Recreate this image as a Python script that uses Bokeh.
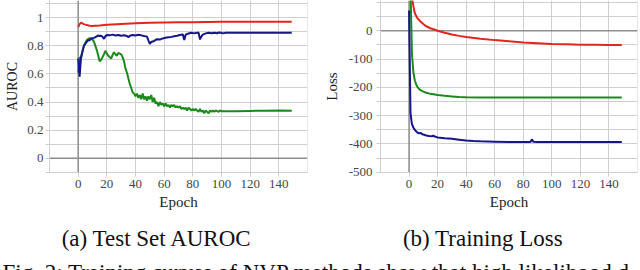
from bokeh.plotting import figure
from bokeh.layouts import row, column
from bokeh.models import FixedTicker, Span
from bokeh.core.properties import value
from bokeh.embed import file_html
from bokeh.resources import INLINE

# ---------------- data: (a) Test Set AUROC ----------------
auc_red_x = [0, 1, 2, 3, 4, 6, 8, 10, 12, 15, 20, 30, 40, 50, 60, 70, 80, 90, 100, 120, 149]
auc_red_y = [0.935, 0.955, 0.965, 0.960, 0.955, 0.948, 0.944, 0.942, 0.944, 0.946, 0.950,
             0.956, 0.961, 0.964, 0.967, 0.968, 0.969, 0.970, 0.971, 0.971, 0.972]

auc_blue_x = [0, 1, 2, 3, 4, 5, 6, 7, 8, 9, 10, 11, 12, 13, 14, 15, 16, 17, 18, 19, 20,
              22, 24, 26, 28, 30, 32, 34, 35, 36, 38, 40, 42, 44, 46, 48, 49, 50, 51, 53,
              55, 57, 59, 61, 63, 65, 67, 69, 71, 73, 74, 75, 77, 79, 81, 83, 84, 85, 86,
              87, 89, 91, 93, 95, 97, 98, 100, 101, 103, 110, 120, 130, 140, 149]
auc_blue_y = [0.71, 0.58, 0.72, 0.76, 0.80, 0.815, 0.83, 0.84, 0.84, 0.85, 0.855, 0.857,
              0.862, 0.868, 0.874, 0.870, 0.872, 0.865, 0.850, 0.868, 0.878,
              0.875, 0.880, 0.874, 0.878, 0.872, 0.876, 0.870, 0.862, 0.872, 0.878, 0.874,
              0.879, 0.875, 0.870, 0.866, 0.840, 0.815, 0.828, 0.835, 0.848, 0.845, 0.853,
              0.858, 0.862, 0.864, 0.868, 0.872, 0.877, 0.882, 0.842, 0.880, 0.888, 0.893,
              0.889, 0.894, 0.893, 0.846, 0.868, 0.880, 0.889, 0.894, 0.890, 0.894, 0.890,
              0.895, 0.893, 0.889, 0.894, 0.893, 0.893, 0.893, 0.893, 0.893]

auc_green_x = list(range(0, 101)) + [110, 120, 130, 140, 149]
auc_green_y = [0.61, 0.72, 0.71, 0.76, 0.80, 0.82, 0.84, 0.85, 0.855, 0.855,
               0.845, 0.83, 0.80, 0.77, 0.73, 0.69, 0.70, 0.72, 0.74, 0.765,
               0.745, 0.73, 0.72, 0.71, 0.735, 0.755, 0.74, 0.73, 0.75, 0.745,
               0.74, 0.72, 0.69, 0.64, 0.61, 0.57, 0.53, 0.50, 0.47, 0.46,
               0.44, 0.46, 0.43, 0.45, 0.42, 0.46, 0.42, 0.44, 0.41, 0.44,
               0.42, 0.45, 0.40, 0.43, 0.39, 0.40, 0.37, 0.40, 0.38, 0.39,
               0.37, 0.39, 0.37, 0.38, 0.36, 0.38, 0.37, 0.38, 0.36, 0.37,
               0.36, 0.37, 0.35, 0.36, 0.35, 0.36, 0.34, 0.36, 0.35, 0.34,
               0.35, 0.34, 0.35, 0.34, 0.33, 0.35, 0.33, 0.34, 0.32, 0.34,
               0.33, 0.32, 0.34, 0.33, 0.34, 0.33, 0.34, 0.335, 0.33, 0.34,
               0.335, 0.335, 0.337, 0.338, 0.340, 0.338]

# ---------------- data: (b) Training Loss ----------------
loss_red_x = [0, 1, 2, 3, 4, 5, 6, 8, 10, 12, 15, 20, 25, 30, 35, 40, 50, 60, 70, 80, 90,
              100, 110, 120, 130, 140, 149]
loss_red_y = [400, 220, 120, 88, 63, 52, 44, 33, 24, 16, 9, 0, -7, -13, -18, -22, -28, -33,
              -37, -41, -44, -47, -48, -49, -49.5, -50, -50]

loss_green_x = [0, 1, 2, 3, 4, 5, 6, 8, 10, 12, 15, 20, 25, 30, 35, 40, 50, 60, 80, 100,
                120, 149]
loss_green_y = [900, 150, -80, -145, -175, -190, -200, -210, -215, -219, -223, -227, -230,
                -232, -234, -235, -236, -236, -236, -236, -236, -236]

loss_blue_x = [0, 1, 2, 3, 4, 5, 6, 7, 8, 9, 10, 12, 14, 16, 17, 18, 20, 25, 30, 35, 40,
               45, 50, 60, 70, 80, 85, 86, 87, 90, 100, 120, 149]
loss_blue_y = [72, -290, -330, -342, -350, -356, -360, -363, -361, -365, -367, -370, -372,
               -373, -371, -374, -377, -380, -382, -385, -388, -390, -391, -392, -393, -393,
               -393, -384, -392, -393, -393, -393, -393]

x_ticks = [0, 20, 40, 60, 80, 100, 120, 140]
auc_ticks = [0, 0.2, 0.4, 0.6, 0.8, 1]
auc_tick_labels = ["0", "0.2", "0.4", "0.6", "0.8", "1"]
auc_minor = [-0.1, 0.1, 0.3, 0.5, 0.7, 0.9, 1.1]
loss_ticks = [-500, -400, -300, -200, -100, 0]
loss_tick_labels = ["-500", "-400", "-300", "-200", "-100", "0"]
loss_minor = [-450, -350, -250, -150, -50, 50, 100]

captions = ["(a) Test Set AUROC", "(b) Training Loss"]
fig_caption = ["Fig. 2: Training curves of NVP methods show that high likelihood d"]

RED, GREEN, BLUE = "#e2261b", "#1a8a1a", "#16168c"
GRID, ZERO = "#cfcfcf", "#8e8e8e"
SERIF = "Liberation Serif"
ROW_BOTTOM = 45
ROW_H = 172 + ROW_BOTTOM


def style(p, yticks, ylabels, yminor, ystand, ylabel_stand, ylabel_size):
    p.outline_line_color = None
    p.xaxis.ticker = FixedTicker(ticks=x_ticks, minor_ticks=[])
    p.yaxis.ticker = FixedTicker(ticks=yticks, minor_ticks=yminor)
    p.yaxis.major_label_overrides = {t: l for t, l in zip(yticks, ylabels)}
    p.xgrid.grid_line_color = GRID
    p.ygrid.grid_line_color = GRID
    p.ygrid.minor_grid_line_color = GRID
    for ax in (p.xaxis[0], p.yaxis[0]):
        ax.axis_line_color = GRID
        ax.major_tick_line_color = GRID
        ax.minor_tick_line_color = GRID
        ax.major_tick_out = 4
        ax.major_tick_in = 0
        ax.minor_tick_out = 4
        ax.minor_tick_in = 0
        ax.major_label_text_font = SERIF
        ax.major_label_text_font_size = "13px"
        ax.major_label_text_color = "#454545"
        ax.axis_label_text_font = SERIF
        ax.axis_label_text_font_style = "normal"
        ax.axis_label_text_font_size = "15px"
        ax.axis_label_text_color = "#222222"
    p.yaxis.axis_label_text_font_size = ylabel_size
    p.xaxis.major_label_standoff = 3
    p.yaxis.major_label_standoff = ystand
    p.xaxis.axis_label_standoff = 3
    p.yaxis.axis_label_standoff = ylabel_stand
    p.add_layout(Span(location=0, dimension="width", line_color=ZERO, line_width=1.5,
                      level="underlay"))
    p.add_layout(Span(location=0, dimension="height", line_color=ZERO, line_width=1.5,
                      level="underlay"))
    p.add_layout(Span(location=160, dimension="height", line_color=GRID, line_width=1,
                      level="underlay"))


p1 = figure(frame_width=258, frame_height=172, x_range=(-20, 160), y_range=(-0.1019, 1.1232),
            min_border_left=49, min_border_right=13, min_border_top=0,
            min_border_bottom=ROW_BOTTOM,
            output_backend="svg", toolbar_location=None, x_axis_label="Epoch",
            y_axis_label="AUROC")
style(p1, auc_ticks, auc_tick_labels, auc_minor, 2, 4, "14px")
p1.line(auc_red_x, auc_red_y, line_color=RED, line_width=2)
p1.line(auc_green_x, auc_green_y, line_color=GREEN, line_width=2)
p1.line(auc_blue_x, auc_blue_y, line_color=BLUE, line_width=2)

p2 = figure(frame_width=257, frame_height=172, x_range=(-20, 160), y_range=(-501.1, 107.1),
            min_border_left=60, min_border_right=3, min_border_top=0,
            min_border_bottom=ROW_BOTTOM,
            output_backend="svg", toolbar_location=None, x_axis_label="Epoch",
            y_axis_label="Loss")
style(p2, loss_ticks, loss_tick_labels, loss_minor, 4, 6, "15px")
p2.line(loss_red_x, loss_red_y, line_color=RED, line_width=2)
p2.line(loss_green_x, loss_green_y, line_color=GREEN, line_width=2)
p2.line(loss_blue_x, loss_blue_y, line_color=BLUE, line_width=2)

# caption strip: data coordinates equal page pixels
p3 = figure(width=640, height=270 - ROW_H, x_range=(0, 640), y_range=(270, ROW_H),
            min_border=0, x_axis_type=None, y_axis_type=None, outline_line_color=None,
            output_backend="svg", toolbar_location=None)
p3.grid.visible = False
p3.text(x=[156.5, 482.5], y=[237.5, 237.5], text=captions, text_align="center",
        text_baseline="alphabetic", text_font=value(SERIF), text_font_size="23px",
        text_color="#111111")
p3.text(x=[2], y=[259], text=fig_caption, text_align="left", text_baseline="top",
        text_font=value(SERIF), text_font_size="23px", text_color="#111111")

layout = column(row(p1, p2), p3)
open("out.html", "w").write(file_html(layout, INLINE))
